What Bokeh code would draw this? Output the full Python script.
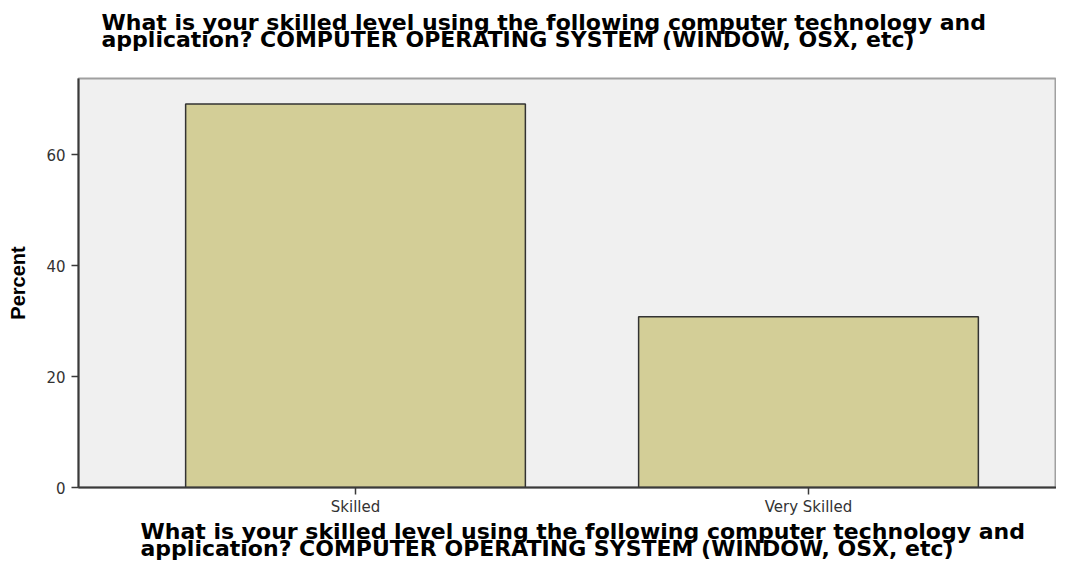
from bokeh.plotting import figure
from bokeh.models import Range1d, FixedTicker, Title, ColumnDataSource
from bokeh.embed import file_html
from bokeh.resources import INLINE

# ---- data ----
categories = ["Skilled", "Very Skilled"]
percent = [69.2, 30.8]
y_ticks = [0, 20, 40, 60]
title_lines = [
    "What is your skilled level using the following computer technology and",
    "application? COMPUTER OPERATING SYSTEM (WINDOW, OSX, etc)",
]
y_label = "Percent"

xpos = list(range(len(categories)))
source = ColumnDataSource(dict(x=xpos, percent=percent, cat=categories))

p = figure(
    width=1056, height=563,
    output_backend="svg", toolbar_location=None, title=None,
    x_range=Range1d(-0.6115, 1.5475), y_range=Range1d(0, 73.8),
    min_border_left=78, min_border_right=0, min_border_top=78, min_border_bottom=71,
)
p.background_fill_color = "#f0f0f0"
p.border_fill_color = "white"
p.outline_line_color = "#a0a0a0"
p.outline_line_width = 2
p.xgrid.visible = False
p.ygrid.visible = False

p.vbar(x="x", top="percent", width=0.75, source=source,
       fill_color="#d3ce97", line_color="#333333", line_width=1.5)

# axes
for ax in (p.xaxis[0], p.yaxis[0]):
    ax.axis_line_color = "#3a3a3a"
    ax.axis_line_width = 2
    ax.major_tick_line_color = "#3a3a3a"
    ax.major_tick_line_width = 1.5
    ax.major_tick_out = 7
    ax.major_tick_in = 0
    ax.minor_tick_out = 0
    ax.minor_tick_in = 0
    ax.major_label_text_font = "DejaVu Sans"
    ax.major_label_text_font_size = "15px"
    ax.major_label_text_color = "#333333"

p.xaxis.ticker = FixedTicker(ticks=xpos)
p.xaxis.major_label_overrides = {i: c for i, c in zip(xpos, categories)}
p.xaxis.major_label_standoff = 3

p.yaxis.ticker = FixedTicker(ticks=y_ticks)
p.yaxis.major_label_standoff = 6
p.yaxis.axis_label = y_label
p.yaxis.axis_label_text_font = "Liberation Sans"
p.yaxis.axis_label_text_font_style = "bold"
p.yaxis.axis_label_text_font_size = "20px"
p.yaxis.axis_label_text_color = "black"
p.yaxis.axis_label_standoff = 14

def make_title(text, offset, standoff):
    return Title(text=text, align="left", offset=offset, standoff=standoff,
                 vertical_align="top",
                 text_font="DejaVu Sans", text_font_style="bold",
                 text_font_size="22px", text_color="black", text_line_height=0.7)

# top title: a trailing empty line lifts the two text lines toward the top edge
p.add_layout(make_title("\n".join(title_lines) + "\n", 23, 14), "above")
p.add_layout(make_title("\n".join(title_lines), 62, 0), "below")

open("out.html", "w").write(file_html(p, INLINE))
